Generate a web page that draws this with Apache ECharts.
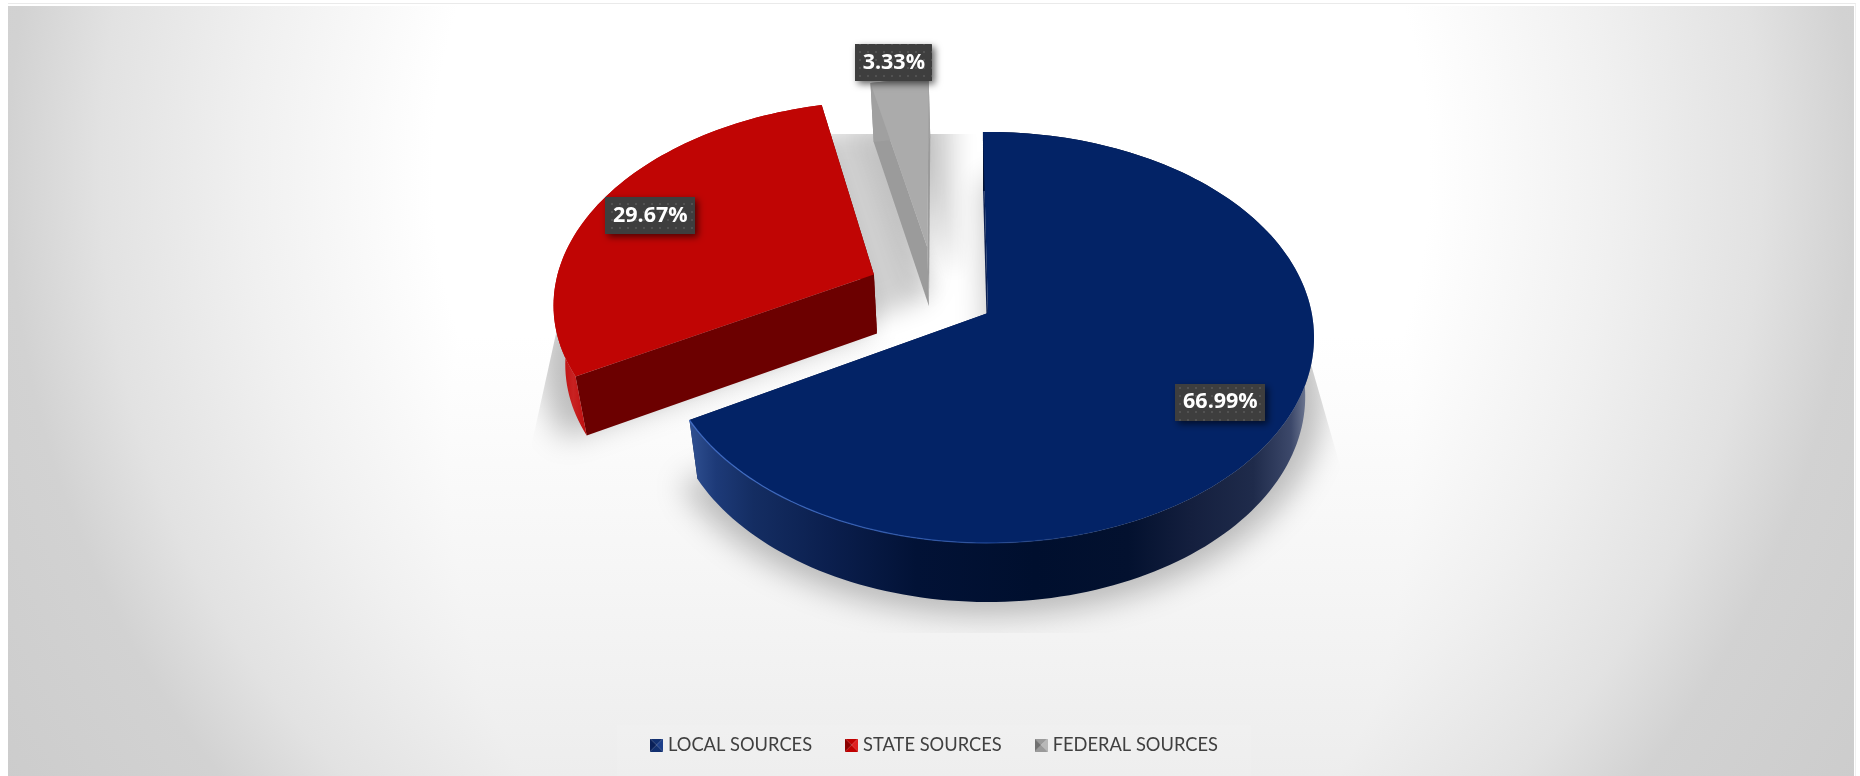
<!DOCTYPE html>
<html>
<head>
<meta charset="utf-8">
<title>Revenue by source</title>
<style>
  html, body { margin: 0; padding: 0; background: #fff; }
  #frame { position: absolute; left: 8px; top: 3px; width: 1848px; height: 773px; border-top: 1px solid #eaeaea; border-right: 1px solid #f0f0f0; box-sizing: border-box; }
  #panel { position: absolute; left: 8px; top: 6px; width: 1846px; height: 770px;
    background-image:
      radial-gradient(ellipse 923px 950px at 923px 164px, #fff 0%, #fff 54%, #f0f0f0 74%, #e2e2e2 90%, #d2d2d2 100%, #cccccc 120%),
      linear-gradient(180deg, #fff 0px, #fff 330px, #f6f6f6 560px, #ededed 770px);
    background-blend-mode: darken; }
  #chart { position: absolute; left: 0; top: 0; width: 1860px; height: 776px; }
</style>
<script src="https://cdn.jsdelivr.net/npm/echarts@6/dist/echarts.min.js"></script>
</head>
<body>
<div id="frame"></div>
<div id="panel"></div>
<div id="chart"></div>
<script>
// Revenue shares by source
const categories = ['LOCAL SOURCES', 'STATE SOURCES', 'FEDERAL SOURCES'];
const shares = [66.99, 29.67, 3.33];

// How far each slice is pulled out of the pie, and in which direction (degrees clockwise from 12 o'clock)
const explodeDistance = [0, 0.41, 0.39];
const explodeBearing = [0, 298.4, 330];
// Where each value label sits: fraction of the radius, and a small turn away from the slice's middle
const labelRadius = [0.8, 0.81, 1.12];
const labelTurn = [1.9, -0.7, -0.5];

// Perspective disc: the pie's plane seen from above and in front
const CX = 988, CY = 313, RX = 323.7, RY = 202.6, PERSP = 0.1192;
const FIRST_ANGLE = -1, WALL = 59, WALL_X = 0.973;

const project = (dx, dy) => {
  const w = 1 - PERSP * dy;
  return [CX + RX * dx / w, CY + RY * dy / w];
};
const toBase = p => [CX + (p[0] - CX) * WALL_X, p[1] + WALL];
const rad = d => d * Math.PI / 180;
const total = shares.reduce((a, b) => a + b, 0);

function sliceGeometry(i, explodeScale) {
  const before = shares.slice(0, i).reduce((a, b) => a + b, 0);
  const a0 = FIRST_ANGLE + before / total * 360;
  const a1 = a0 + shares[i] / total * 360;
  const dist = explodeDistance[i] * (explodeScale === undefined ? 1 : explodeScale);
  const ox = dist * Math.sin(rad(explodeBearing[i]));
  const oy = -dist * Math.cos(rad(explodeBearing[i]));
  const apex = project(ox, oy);
  const rim = [];
  const steps = Math.max(4, Math.ceil((a1 - a0) / 1.5));
  for (let s = 0; s <= steps; s++) {
    const a = rad(a0 + (a1 - a0) * s / steps);
    rim.push(project(ox + Math.sin(a), oy - Math.cos(a)));
  }
  const mid = rad((a0 + a1) / 2 + labelTurn[i]);
  const lr = labelRadius[i];
  return { apex, rim, label: project(ox + lr * Math.sin(mid), oy - lr * Math.cos(mid)) };
}

const hGrad = (x0, x1, stops) => new echarts.graphic.LinearGradient(x0, 0, x1, 0,
  stops.map(s => ({ offset: s[0], color: s[1] })), true);

const sliceLooks = [
  {
    top: '#032366',
    rimWall: hGrad(691, 1316, [[0, '#2f4f90'], [0.04, '#1d3a78'], [0.1, '#142d62'], [0.22, '#0b1f4e'],
      [0.36, '#021236'], [0.55, '#000f2e'], [0.7, '#03112f'], [0.8, '#141f3e'], [0.9, '#1f2b4b'],
      [0.96, '#3c486a'], [1, '#8d95aa']]),
    cutWall: '#0a1f52',
    highlight: hGrad(691, 1130, [[0, 'rgba(70,115,205,0.9)'], [0.6, 'rgba(50,95,185,0.7)'], [1, 'rgba(30,70,150,0)']])
  },
  {
    top: '#c00504',
    rimWall: hGrad(553, 590, [[0, '#b80000'], [0.55, '#c82222'], [0.85, '#c01010'], [1, '#a80000']]),
    cutWall: '#6c0000'
  },
  { top: '#ababab', rimWall: '#a0a0a0', cutWall: '#9b9b9b' }
];

// Dotted fill for the value label boxes
const dots = document.createElement('canvas');
dots.width = dots.height = 8;
(ctx => {
  ctx.fillStyle = '#3e3e3e';
  ctx.fillRect(0, 0, 8, 8);
  ctx.fillStyle = '#525252';
  ctx.fillRect(3, 3, 2, 2);
})(dots.getContext('2d'));

// Bevelled legend swatch
function swatch(light, mid, dark) {
  const c = document.createElement('canvas');
  c.width = c.height = 14;
  const g = c.getContext('2d');
  const tri = (pts, col) => {
    g.fillStyle = col; g.beginPath();
    pts.forEach((p, n) => n ? g.lineTo(p[0], p[1]) : g.moveTo(p[0], p[1]));
    g.closePath(); g.fill();
  };
  tri([[0, 0], [14, 0], [7, 7]], mid);
  tri([[14, 0], [14, 14], [7, 7]], light);
  tri([[0, 14], [14, 14], [7, 7]], mid);
  tri([[0, 0], [0, 14], [7, 7]], dark);
  return 'image://' + c.toDataURL();
}
const legendIcons = [
  swatch('#1d3f8a', '#123070', '#0a2058'),
  swatch('#e02020', '#c00000', '#8c0000'),
  swatch('#b8b8b8', '#9a9a9a', '#707070')
];

const measure = document.createElement('canvas').getContext('2d');
const LABEL_FONT = '700 21.5px "Open Sans"';

function renderSlice(i, value) {
  const g = sliceGeometry(i), look = sliceLooks[i];
  const rimBase = g.rim.map(toBase), apexBase = toBase(g.apex);
  const first = g.rim[0], last = g.rim[g.rim.length - 1];
  const children = [
    { type: 'polygon', shape: { points: [g.apex, first, toBase(first), apexBase] }, style: { fill: look.cutWall } },
    { type: 'polygon', shape: { points: [g.apex, last, toBase(last), apexBase] }, style: { fill: look.cutWall } },
    { type: 'polygon', shape: { points: g.rim.concat(rimBase.slice().reverse()) }, style: { fill: look.rimWall } },
    { type: 'polygon', shape: { points: [g.apex].concat(g.rim) }, style: { fill: look.top } }
  ];
  if (look.highlight) {
    children.push({ type: 'polyline', shape: { points: g.rim.filter(p => p[1] > CY + 40) },
      style: { fill: 'none', stroke: look.highlight, lineWidth: 1.3 } });
  }
  const text = value.toFixed(2) + '%';
  measure.font = LABEL_FONT;
  const w = Math.round(measure.measureText(text).width) + 15, h = 37;
  children.push({
    type: 'rect',
    shape: { x: Math.round(g.label[0] - w / 2), y: Math.round(g.label[1] - h / 2), width: w, height: h },
    style: { fill: { image: dots, repeat: 'repeat' }, shadowBlur: 7, shadowColor: 'rgba(0,0,0,0.6)', shadowOffsetX: 3, shadowOffsetY: 3 }
  });
  children.push({
    type: 'text',
    style: { text, x: g.label[0], y: g.label[1], fill: '#ffffff', font: LABEL_FONT, align: 'center', verticalAlign: 'middle' }
  });
  return { type: 'group', children };
}

// Soft shadow on the floor: drawn off to the side so only its blur lands on the page,
// and cut to the floor's perspective outline
const FLOOR = [[600, 134], [1245, 134], [1388, 633], [490, 633]];
const SHIFT = 3000;
function floorPiece(geo, scaleX, scaleY, dropY, alpha, blur) {
  const pts = [geo.apex].concat(geo.rim).map(p => [
    CX + (p[0] - CX) * scaleX - SHIFT,
    CY + (p[1] - CY) * scaleY + dropY
  ]);
  return {
    type: 'polygon',
    shape: { points: pts },
    clipPath: { type: 'polygon', shape: { points: FLOOR } },
    style: { fill: '#000', shadowBlur: blur, shadowColor: 'rgba(0,0,0,' + alpha + ')', shadowOffsetX: SHIFT }
  };
}
function renderShadow() {
  const pieces = shares.map((_, i) => floorPiece(sliceGeometry(i), 1.03, 1.06, 58, 0.25, 30));
  // The two pulled-out slices also shade the gap they leave behind them
  pieces.push(floorPiece(sliceGeometry(1, 0.5), 1, 1, 4, 0.19, 24));
  pieces.push(floorPiece(sliceGeometry(2, 0.5), 1, 1, 0, 0.15, 22));
  return { type: 'group', children: pieces };
}

const sliceSeries = categories.map((name, i) => ({
  type: 'custom',
  name,
  coordinateSystem: 'none',
  silent: true,
  animation: false,
  itemStyle: { color: sliceLooks[i].top },
  data: [[shares[i]]],
  renderItem: (params, api) => renderSlice(i, api.value(0))
})).reverse();

const chart = echarts.init(document.getElementById('chart'), null, { renderer: 'canvas' });
chart.setOption({
  animation: false,
  backgroundColor: 'transparent',
  graphic: [{
    type: 'rect', z: 0, silent: true,
    shape: { x: 617, y: 725, width: 634, height: 51 },
    style: { fill: 'rgba(255,255,255,0.08)' }
  }],
  legend: {
    left: 650,
    top: 736,
    padding: 0,
    itemWidth: 13,
    itemHeight: 13,
    itemGap: 33,
    selectedMode: false,
    textStyle: { fontFamily: 'Lato', fontSize: 18.3, color: '#404040', padding: [0, 0, 0, 0] },
    data: categories.map((name, i) => ({ name, icon: legendIcons[i] }))
  },
  series: [{
    type: 'custom',
    name: 'floor shadow',
    coordinateSystem: 'none',
    silent: true,
    animation: false,
    data: [[0]],
    renderItem: renderShadow
  }].concat(sliceSeries)
});
</script>
</body>
</html>
